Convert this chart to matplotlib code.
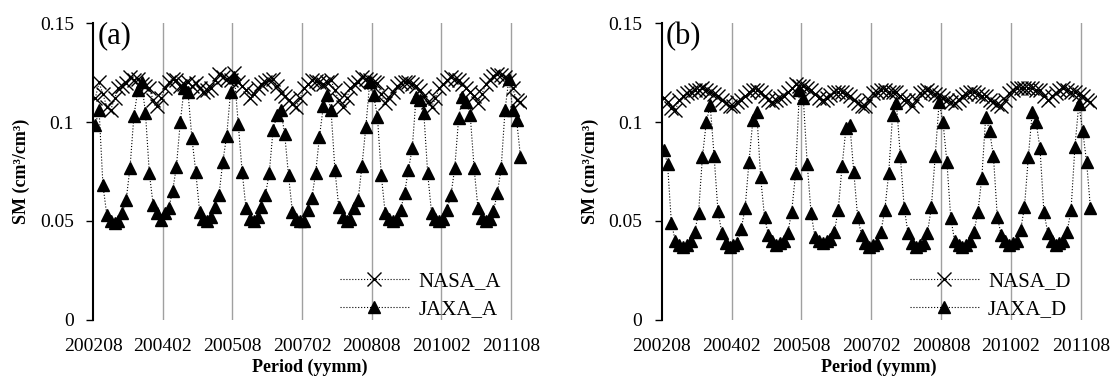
import matplotlib
matplotlib.use("Agg")
import matplotlib.pyplot as plt
import numpy as np

plt.rcParams['font.family'] = ['Liberation Serif', 'DejaVu Serif']

# monthly values, 2002-08 .. 2011-10
nasa_a = [0.112, 0.120, 0.114, 0.1077, 0.106, 0.112, 0.117, 0.118, 0.1195, 0.123, 0.121, 0.122,
          0.119, 0.118, 0.117, 0.111, 0.108, 0.112, 0.117, 0.120, 0.122, 0.121, 0.118, 0.119,
          0.120, 0.118, 0.1195, 0.117, 0.115, 0.116, 0.117, 0.121, 0.1245, 0.123, 0.122, 0.121,
          0.125, 0.120, 0.118, 0.116, 0.112, 0.114, 0.117, 0.119, 0.120, 0.121, 0.122, 0.118,
          0.1145, 0.113, 0.111, 0.109, 0.1077, 0.112, 0.117, 0.119, 0.121, 0.1205, 0.120, 0.119,
          0.120, 0.121, 0.116, 0.111, 0.1077, 0.112, 0.117, 0.119, 0.120, 0.123, 0.122, 0.121,
          0.120, 0.1195, 0.114, 0.1094, 0.112, 0.115, 0.118, 0.1195, 0.120, 0.120, 0.119, 0.118,
          0.116, 0.113, 0.110, 0.1077, 0.112, 0.117, 0.119, 0.121, 0.123, 0.122, 0.121, 0.119,
          0.117, 0.115, 0.113, 0.1094, 0.114, 0.119, 0.121, 0.1235, 0.1245, 0.124, 0.123, 0.121,
          0.117, 0.111, 0.110]
jaxa_a = [0.0985, 0.106, 0.068, 0.053, 0.050, 0.049, 0.050, 0.054, 0.0606, 0.077, 0.103, 0.116,
          0.120, 0.1045, 0.074, 0.058, 0.054, 0.0505, 0.054, 0.0564, 0.065, 0.0775, 0.100, 0.117,
          0.115, 0.092, 0.075, 0.0547, 0.051, 0.050, 0.052, 0.057, 0.063, 0.080, 0.093, 0.115,
          0.123, 0.099, 0.075, 0.0564, 0.051, 0.050, 0.052, 0.057, 0.063, 0.074, 0.096, 0.1035,
          0.106, 0.094, 0.073, 0.0547, 0.051, 0.050, 0.050, 0.0556, 0.0614, 0.074, 0.0926, 0.108,
          0.1136, 0.106, 0.0758, 0.057, 0.052, 0.050, 0.051, 0.0564, 0.0606, 0.078, 0.0976, 0.120,
          0.1136, 0.1027, 0.073, 0.054, 0.051, 0.050, 0.051, 0.0556, 0.064, 0.0758, 0.0867, 0.1128,
          0.111, 0.1044, 0.074, 0.054, 0.051, 0.050, 0.051, 0.0556, 0.063, 0.0768, 0.102, 0.1128,
          0.110, 0.1035, 0.0768, 0.0564, 0.0514, 0.050, 0.051, 0.055, 0.064, 0.0766, 0.106, 0.122,
          0.106, 0.101, 0.0825]
nasa_d = [0.112, 0.110, 0.107, 0.106, 0.111, 0.113, 0.1145, 0.115, 0.116, 0.116, 0.117, 0.116,
          0.115, 0.114, 0.113, 0.111, 0.1094, 0.108, 0.108, 0.110, 0.111, 0.113, 0.115, 0.116,
          0.116, 0.115, 0.113, 0.111, 0.110, 0.111, 0.112, 0.113, 0.115, 0.117, 0.119, 0.118,
          0.118, 0.117, 0.116, 0.114, 0.112, 0.111, 0.112, 0.1136, 0.115, 0.115, 0.115, 0.114,
          0.113, 0.111, 0.1094, 0.108, 0.108, 0.111, 0.1145, 0.115, 0.116, 0.116, 0.115, 0.115,
          0.115, 0.113, 0.111, 0.111, 0.108, 0.111, 0.1145, 0.115, 0.116, 0.115, 0.114, 0.1136,
          0.112, 0.111, 0.110, 0.1094, 0.111, 0.113, 0.114, 0.115, 0.115, 0.114, 0.113, 0.113,
          0.111, 0.110, 0.109, 0.108, 0.111, 0.1145, 0.116, 0.117, 0.117, 0.117, 0.117, 0.117,
          0.116, 0.116, 0.113, 0.111, 0.113, 0.1145, 0.116, 0.117, 0.116, 0.115, 0.115, 0.114,
          0.113, 0.111, 0.110]
jaxa_d = [0.0859, 0.079, 0.049, 0.040, 0.038, 0.037, 0.038, 0.040, 0.0446, 0.054, 0.0825, 0.100,
          0.1086, 0.083, 0.055, 0.044, 0.039, 0.037, 0.038, 0.039, 0.046, 0.0566, 0.080, 0.101,
          0.105, 0.072, 0.052, 0.043, 0.040, 0.038, 0.039, 0.040, 0.044, 0.0547, 0.074, 0.116,
          0.112, 0.079, 0.054, 0.042, 0.040, 0.039, 0.040, 0.041, 0.0446, 0.0556, 0.078, 0.097,
          0.0985, 0.075, 0.052, 0.043, 0.039, 0.037, 0.038, 0.039, 0.0446, 0.0556, 0.074, 0.1035,
          0.1095, 0.083, 0.0566, 0.0438, 0.039, 0.037, 0.038, 0.039, 0.044, 0.057, 0.083, 0.110,
          0.100, 0.080, 0.0515, 0.040, 0.038, 0.037, 0.038, 0.040, 0.0446, 0.0547, 0.0717, 0.1027,
          0.0956, 0.0828, 0.052, 0.043, 0.040, 0.038, 0.039, 0.040, 0.0455, 0.057, 0.0825, 0.105,
          0.100, 0.0867, 0.0547, 0.044, 0.040, 0.038, 0.039, 0.040, 0.0446, 0.0556, 0.0874, 0.109,
          0.0956, 0.080, 0.0566]

tick_labels = ['200208', '200402', '200508', '200702', '200808', '201002', '201108']
tick_pos = [0, 18, 36, 54, 72, 90, 108]

months = np.arange(len(nasa_a)) + 0.5

fig = plt.figure(figsize=(11.2, 3.85), dpi=100)
ax_a = fig.add_axes([0.0833, 0.169, 0.3866, 0.771])
ax_b = fig.add_axes([0.5908, 0.169, 0.3880, 0.771])

panels = [(ax_a, nasa_a, jaxa_a, 'NASA_A', 'JAXA_A', '(a)'),
          (ax_b, nasa_d, jaxa_d, 'NASA_D', 'JAXA_D', '(b)')]

for ax, nasa, jaxa, lab_n, lab_j, tag in panels:
    for t in tick_pos[1:]:
        ax.axvline(t, color='#a0a0a0', lw=1.0, zorder=0)
    ax.plot(months, nasa, color='black', ls=':', lw=0.8, marker='x',
            ms=10, mew=1.0, label=lab_n)
    ax.plot(months, jaxa, color='black', ls=':', lw=0.8, marker='^',
            ms=9, mec='black', mfc='black', label=lab_j)
    ax.set_xlim(0, 112)
    ax.set_ylim(0, 0.15)
    ax.set_yticks([0, 0.05, 0.1, 0.15])
    ax.set_yticklabels(['0', '0.05', '0.1', '0.15'])
    ax.set_xticks(tick_pos)
    ax.set_xticklabels(tick_labels)
    ax.tick_params(axis='x', length=0, labelsize=14, pad=13)
    ax.tick_params(axis='y', direction='out', length=5, width=1, labelsize=14, pad=9)
    for s in ['top', 'right', 'bottom']:
        ax.spines[s].set_visible(False)
    ax.spines['left'].set_linewidth(1.5)
    ax.set_xlabel('Period (yymm)', fontsize=13, fontweight='bold', labelpad=3)
    ax.set_ylabel('SM (cm³/cm³)', fontsize=13, fontweight='bold', labelpad=7)
    ax.text(0.01, 1.005, tag, transform=ax.transAxes, fontsize=22, va='top', ha='left')
    ax.legend(loc='lower right', frameon=False, fontsize=15, handlelength=3.3,
              handletextpad=0.45, borderaxespad=0.0, labelspacing=0.4,
              markerscale=0.95, bbox_to_anchor=(0.96, -0.025))

fig.savefig('out.png', dpi=100)
